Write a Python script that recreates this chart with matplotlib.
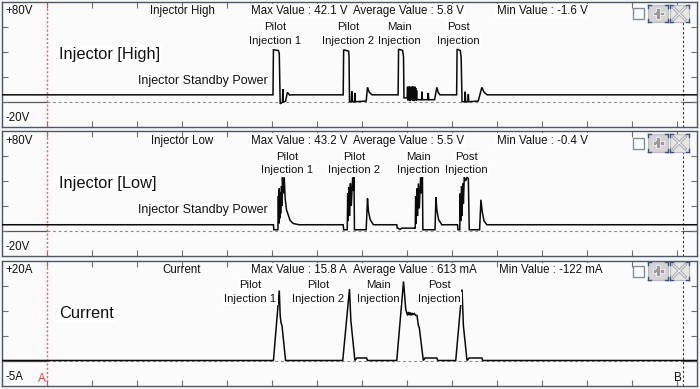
import matplotlib
matplotlib.use("Agg")
import matplotlib.pyplot as plt
from matplotlib.patches import Rectangle

plt.rcParams['font.family'] = ['Liberation Sans', 'DejaVu Sans']

W, H, DPI = 700, 389, 100

# ---------------- data ----------------
# time axis in ms (one grid division = 1 ms)
T_END = 15.44
CURSOR_A = 1.0
CURSOR_B = 15.14
TIME_TICKS = list(range(0, 16))

# Panel 1: Injector High (V)
high_t = [0.00, 6.02, 6.03, 6.14, 6.16, 6.18, 6.23, 6.24, 6.25, 6.30, 6.34, 6.39, 6.44,
          7.58, 7.59, 7.70, 7.71, 7.72, 7.76, 7.77, 7.78, 7.83, 7.84, 7.85, 8.09, 8.12, 8.16, 8.22,
          8.80, 8.81, 8.90, 8.92, 8.93, 9.00,
          9.01, 9.02, 9.03, 9.04, 9.05, 9.06, 9.07, 9.08, 9.09, 9.10, 9.11, 9.12,
          9.13, 9.14, 9.15, 9.16, 9.17, 9.18, 9.19, 9.20, 9.21, 9.22,
          9.23, 9.32, 9.33, 9.34, 9.46, 9.47, 9.48, 9.61, 9.66, 9.69, 9.73,
          10.10, 10.11, 10.18, 10.20, 10.22, 10.28, 10.29, 10.30, 10.35, 10.36, 10.37,
          10.58, 10.66, 10.71, 10.78, 15.44]
high_v = [5.5, 5.5, 41.5, 41.0, 38.5, -1.6, -0.5, 10.0, -0.5, 0.5, 7.5, 5.3, 5.5,
          5.5, 41.5, 40.5, 36.0, 0.0, 0.0, 8.3, 0.0, 0.0, 7.0, 0.0, 0.5, 11.5, 7.5, 5.5,
          5.5, 42.0, 41.0, 36.0, 3.0, 3.0,
          12.0, 1.0, 11.5, 2.0, 12.2, 0.5, 11.0, 1.5, 12.0, 2.5, 11.5, 0.8,
          12.2, 1.5, 10.5, 0.5, 12.0, 2.0, 11.0, 1.0, 9.0, 1.6,
          1.6, 1.6, 8.0, 1.6, 1.6, 7.0, 1.6, 1.6, 11.5, 7.5, 5.5,
          5.5, 42.0, 41.0, 36.0, 0.0, 0.0, 8.0, 0.0, 0.0, 6.0, 0.0,
          0.5, 11.5, 7.5, 5.5, 5.5]

# Panel 2: Injector Low (V)
low_t = [0.00, 6.03, 6.04, 6.13, 6.14, 6.15, 6.16, 6.17, 6.18, 6.19, 6.21, 6.22, 6.23, 6.25, 6.27,
         6.29, 6.32, 6.40, 6.47, 6.60,
         7.58, 7.59, 7.67, 7.68, 7.69, 7.71, 7.72, 7.74, 7.76, 7.79, 7.81, 7.82, 7.83,
         8.09, 8.12, 8.14, 8.18, 8.25,
         8.77, 8.78, 8.80, 8.84, 8.88, 9.17, 9.18,
         9.19, 9.20, 9.22, 9.23, 9.25, 9.27, 9.30, 9.32, 9.34, 9.35,
         9.62, 9.64, 9.66, 9.70, 9.77,
         10.12, 10.13, 10.17, 10.18, 10.19, 10.21, 10.22, 10.24, 10.25, 10.27, 10.30, 10.33,
         10.36, 10.38, 10.61, 10.64, 10.67, 10.71, 10.77, 15.44]
low_v = [5.0, 5.0, 1.0, 1.0, 28.0, 6.0, 34.0, 10.0, 31.0, 14.0, 36.0, 20.0, 43.0, 30.0, 43.0,
         26.0, 17.0, 8.5, 6.0, 5.0,
         5.0, 1.0, 1.0, 30.0, 8.0, 35.0, 12.0, 38.0, 20.0, 43.0, 32.0, 43.0, 1.0,
         1.0, 26.0, 16.0, 9.0, 5.0,
         5.0, 2.3, 2.3, 1.2, 2.3, 2.3, 2.0,
         28.0, 6.0, 34.0, 12.0, 38.0, 18.0, 43.0, 30.0, 43.0, 1.0,
         1.0, 27.0, 17.0, 9.0, 5.0,
         5.0, 1.0, 1.0, 30.0, 8.0, 36.0, 12.0, 38.0, 22.0, 43.0, 40.0, 43.0,
         42.0, 1.0, 1.0, 25.0, 15.0, 8.0, 5.0, 5.0]

# Panel 3: Current (A)
cur_t = [0.00, 6.03, 6.16, 6.18, 6.20, 6.22, 6.30,
         7.57, 7.72, 7.75, 7.84, 7.88, 8.10, 8.12,
         8.77, 8.92, 8.97, 8.99, 9.01, 9.03, 9.05, 9.07, 9.09, 9.11, 9.13, 9.16, 9.19, 9.22,
         9.25, 9.27, 9.36, 9.40, 9.66, 9.68,
         10.08, 10.22, 10.25, 10.33, 10.38, 10.66, 10.68, 15.44]
cur_a = [0.0, 0.0, 14.0, 9.0, 7.5, 7.0, 0.0,
         0.0, 14.3, 8.0, 0.0, 0.5, 0.5, 0.0,
         0.0, 15.8, 10.2, 9.6, 9.0, 9.7, 9.1, 9.6, 9.0, 9.5, 9.2, 9.4, 9.0, 9.0,
         7.0, 6.6, 0.0, 0.5, 0.5, 0.0,
         0.0, 14.2, 7.0, 0.0, 0.5, 0.5, 0.0, 0.0]

panels = [
    dict(t=high_t, v=high_v, ylim=(-20, 80), yticks=[0, 20, 40, 60],
         top_lbl="+80V", bot_lbl="-20V", name="Injector High", big="Injector [High]",
         stats=["Max Value : 42.1 V", "Average Value : 5.8 V", "Min Value : -1.6 V"],
         standby=True),
    dict(t=low_t, v=low_v, ylim=(-20, 80), yticks=[0, 20, 40, 60],
         top_lbl="+80V", bot_lbl="-20V", name="Injector Low", big="Injector [Low]",
         stats=["Max Value : 43.2 V", "Average Value : 5.5 V", "Min Value : -0.4 V"],
         standby=True),
    dict(t=cur_t, v=cur_a, ylim=(-5, 20), yticks=[0, 5, 10, 15],
         top_lbl="+20A", bot_lbl="-5A", name="Current", big="Current",
         stats=["Max Value : 15.8 A", "Average Value : 613 mA", "Min Value : -122 mA"],
         standby=False),
]

pulse_names = [("Pilot", "Injection 1"), ("Pilot", "Injection 2"),
               ("Main", "Injection"), ("Post", "Injection")]

# ---------------- layout (pixels) ----------------
panel_tops = [1.7, 131.0, 260.5]
panel_h = 125.0
x_left, x_right = 2.0, 697.0
pulse_lbl_x = [[275.5, 348.0, 399.0, 458.5],
               [287.0, 354.0, 418.5, 466.0],
               [250.5, 318.5, 378.0, 439.7]]
pulse_lbl_y = [(27.0, 40.5), (157.0, 170.0), (285.5, 298.5)]
stat_x = [[250.7, 353.3, 496.7], [250.7, 353.3, 496.7], [250.7, 353.3, 499.3]]

fig = plt.figure(figsize=(W / DPI, H / DPI), dpi=DPI, facecolor='#f6f6f6')

BORDER = '#4d5866'
TXT = '#111111'

for i, p in enumerate(panels):
    top = panel_tops[i]
    ax = fig.add_axes([x_left / W, (H - top - panel_h) / H, (x_right - x_left) / W, panel_h / H])
    ax.set_facecolor('#fbfbfb')
    ax.set_xlim(0, T_END)
    ax.set_ylim(*p['ylim'])
    ax.set_xticks(TIME_TICKS)
    ax.set_yticks(p['yticks'])
    ax.tick_params(direction='in', length=4, width=0.8, color='#707070',
                   top=True, right=True, labelleft=False, labelbottom=False)
    for s in ax.spines.values():
        s.set_color(BORDER)
        s.set_linewidth(1.0)
    # zero reference line: solid outside the cursors, dashed between
    ax.plot([0, CURSOR_A], [0, 0], color='#555555', lw=0.9, zorder=1)
    ax.plot([CURSOR_A, CURSOR_B], [0, 0], color='#8a8a8a', lw=0.8,
            linestyle=(0, (2.5, 2.5)), zorder=1)
    ax.plot([CURSOR_B, T_END], [0, 0], color='#555555', lw=0.9, zorder=1)
    # cursors
    ax.axvline(CURSOR_A, color='#ff5a5a', lw=1.0, linestyle=(0, (1.5, 1.5)), zorder=2)
    ax.axvline(CURSOR_B, color='#333333', lw=0.8, linestyle=(0, (2, 2)), zorder=2)
    # waveform
    ax.plot(p['t'], p['v'], color='#0a0a0a', lw=1.1, zorder=3, solid_joinstyle='miter')

# ---------------- overlay for text and buttons (pixel coordinates) ----------------
ov = fig.add_axes([0, 0, 1, 1], facecolor='none')
ov.set_xlim(0, W)
ov.set_ylim(H, 0)
ov.axis('off')

box = dict(facecolor='white', edgecolor='none', pad=1.0)

def buttons(dy):
    ov.add_patch(Rectangle((633.3, 8.3 + dy), 11, 11, facecolor='white',
                           edgecolor='#7d8ca3', lw=1.0))
    for x0, fc in [(648.3, '#d4d4d4'), (669.5, '#e6e6e6')]:
        ov.add_patch(Rectangle((x0, 4.8 + dy), 19.5, 17.5, facecolor=fc,
                               edgecolor='#b8bcc4', lw=0.8))
        # blue corner marks
        for cx, cy, sx, sy in [(x0, 4.8 + dy, 1, 1), (x0 + 19.5, 4.8 + dy, -1, 1),
                               (x0, 22.3 + dy, 1, -1), (x0 + 19.5, 22.3 + dy, -1, -1)]:
            ov.plot([cx, cx + 3 * sx], [cy, cy], color='#35508a', lw=1.0)
            ov.plot([cx, cx], [cy, cy + 3 * sy], color='#35508a', lw=1.0)
    # plus sign
    cx, cy = 648.3 + 9.75, 13.55 + dy
    ov.add_patch(Rectangle((cx - 5.5, cy - 1.8), 11, 3.6, facecolor='#9a9a9a', edgecolor='white', lw=0.5))
    ov.add_patch(Rectangle((cx - 1.8, cy - 5.5), 3.6, 11, facecolor='#9a9a9a', edgecolor='white', lw=0.5))
    ov.add_patch(Rectangle((cx - 1.6, cy - 1.6), 3.2, 3.2, facecolor='#9a9a9a', edgecolor='none'))
    # X sign
    cx, cy = 669.5 + 9.75, 13.55 + dy
    ov.plot([cx - 6, cx + 6], [cy - 6, cy + 6], color='#a8a8a8', lw=2.2)
    ov.plot([cx - 6, cx + 6], [cy + 6, cy - 6], color='#a8a8a8', lw=2.2)
    ov.plot([cx - 6, cx + 6], [cy - 6, cy + 6], color='#f2f2f2', lw=0.8)
    ov.plot([cx - 6, cx + 6], [cy + 6, cy - 6], color='#f2f2f2', lw=0.8)

for i, p in enumerate(panels):
    top = panel_tops[i]
    dy = top - panel_tops[0]
    ov.text(5, top + 9.5, p['top_lbl'], fontsize=8.3, color=TXT, va='center', ha='left')
    ov.text(5, top + 116, p['bot_lbl'], fontsize=8.3, color=TXT, va='center', ha='left')
    ov.text(182, top + 9.5, p['name'], fontsize=8.3, color=TXT, va='center', ha='center')
    for sx, s in zip(stat_x[i], p['stats']):
        ov.text(sx, top + 9.5, s, fontsize=8.3, color=TXT, va='center', ha='left', bbox=box)
    ov.text(59.3, top + 52.5, p['big'], fontsize=11.8, color=TXT, va='center', ha='left', bbox=box)
    if p['standby']:
        ov.text(138.3, top + 79, "Injector Standby Power", fontsize=9, color=TXT,
                va='center', ha='left', bbox=box)
    y1, y2 = pulse_lbl_y[i]
    for xc, (l1, l2) in zip(pulse_lbl_x[i], pulse_names):
        ov.text(xc, y1, l1, fontsize=8.2, color=TXT, va='center', ha='center', bbox=box)
        ov.text(xc, y2, l2, fontsize=8.2, color=TXT, va='center', ha='center', bbox=box)
    buttons(dy if i < 2 else dy - 1.5)

ov.text(41.7, 379, "A", fontsize=8.5, color='#ff3b3b', va='center', ha='center')
ov.text(678.3, 378, "B", fontsize=8.5, color=TXT, va='center', ha='center')

fig.savefig("out.png", dpi=DPI, facecolor=fig.get_facecolor())
